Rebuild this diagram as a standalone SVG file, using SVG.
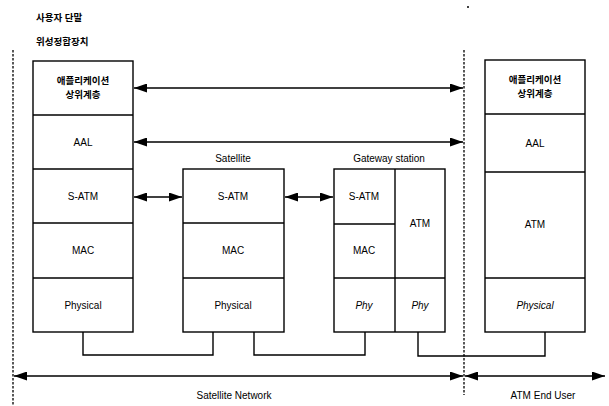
<svg xmlns="http://www.w3.org/2000/svg" width="609" height="406" viewBox="0 0 609 406">
<style>
.b{fill:#fff;stroke:#000;stroke-width:1.4}
.l{fill:none;stroke:#000;stroke-width:1.4}
.d{fill:none;stroke:#000;stroke-width:1.3;stroke-dasharray:2.5 1.5}
text{font-family:"Liberation Sans","Noto Sans CJK KR",sans-serif;font-size:10px;fill:#000;text-anchor:middle}
.k{font-size:9.5px;font-weight:bold}
.i{font-style:italic}
.s{text-anchor:start}
</style>
<defs>
<marker id="ah" viewBox="0 0 13 9" refX="13" refY="4.5" markerWidth="13" markerHeight="9" markerUnits="userSpaceOnUse" orient="auto-start-reverse">
<path d="M0,0 L13,4.5 L0,9 z" fill="#000"/>
</marker>
</defs>
<text class="k s" x="36" y="21">사용자 단말</text>
<text class="k s" x="36" y="45">위성정합장치</text>
<circle cx="468" cy="7" r="1" fill="#000"/>
<g id="dividers">
<line class="d" x1="13" y1="50" x2="13" y2="406"/>
<line class="d" x1="464" y1="50" x2="464" y2="395"/>
</g>
<g id="user-terminal">
<rect class="b" x="33" y="61" width="100" height="271"/>
<line class="l" x1="33" y1="115" x2="133" y2="115"/>
<line class="l" x1="33" y1="169" x2="133" y2="169"/>
<line class="l" x1="33" y1="223" x2="133" y2="223"/>
<line class="l" x1="33" y1="278" x2="133" y2="278"/>
<text class="k" x="83" y="84">애플리케이션</text>
<text class="k" x="83" y="98">상위계층</text>
<text x="83" y="146">AAL</text>
<text x="83" y="200">S-ATM</text>
<text x="83" y="254">MAC</text>
<text x="83" y="309">Physical</text>
</g>
<g id="satellite">
<text x="233" y="162">Satellite</text>
<rect class="b" x="183" y="169" width="101" height="163"/>
<line class="l" x1="183" y1="223" x2="284" y2="223"/>
<line class="l" x1="183" y1="278" x2="284" y2="278"/>
<text x="233" y="200">S-ATM</text>
<text x="233" y="254">MAC</text>
<text x="233" y="309">Physical</text>
</g>
<g id="gateway">
<text x="389" y="162">Gateway station</text>
<rect class="b" x="334" y="169" width="111" height="163"/>
<line class="l" x1="395" y1="169" x2="395" y2="332"/>
<line class="l" x1="334" y1="224" x2="395" y2="224"/>
<line class="l" x1="334" y1="278" x2="445" y2="278"/>
<text x="364" y="200">S-ATM</text>
<text x="364" y="254">MAC</text>
<text class="i" x="364" y="309">Phy</text>
<text x="420" y="227">ATM</text>
<text class="i" x="420" y="309">Phy</text>
</g>
<g id="atm-end-user">
<rect class="b" x="485" y="60" width="100" height="272"/>
<line class="l" x1="485" y1="114" x2="585" y2="114"/>
<line class="l" x1="485" y1="172" x2="585" y2="172"/>
<line class="l" x1="485" y1="278" x2="585" y2="278"/>
<text class="k" x="535" y="83">애플리케이션</text>
<text class="k" x="535" y="97">상위계층</text>
<text x="535" y="147">AAL</text>
<text x="535" y="228">ATM</text>
<text class="i" x="535" y="309">Physical</text>
</g>
<g id="connectors">
<line class="l" x1="134" y1="88" x2="463" y2="88" marker-start="url(#ah)" marker-end="url(#ah)"/>
<line class="l" x1="134" y1="142" x2="463" y2="142" marker-start="url(#ah)" marker-end="url(#ah)"/>
<line class="l" x1="134" y1="197" x2="182" y2="197" marker-start="url(#ah)" marker-end="url(#ah)"/>
<line class="l" x1="285" y1="197" x2="333" y2="197" marker-start="url(#ah)" marker-end="url(#ah)"/>
<polyline class="l" points="83,332 83,355 213,355 213,332"/>
<polyline class="l" points="254,332 254,355 365,355 365,332"/>
<polyline class="l" points="418,332 418,356 545,356 545,332"/>
<line class="l" x1="14" y1="376" x2="463" y2="376" marker-start="url(#ah)" marker-end="url(#ah)"/>
<line class="l" x1="465" y1="376" x2="605" y2="376" marker-start="url(#ah)" marker-end="url(#ah)"/>
</g>
<text x="234" y="399">Satellite Network</text>
<text x="543" y="399">ATM End User</text>
</svg>
